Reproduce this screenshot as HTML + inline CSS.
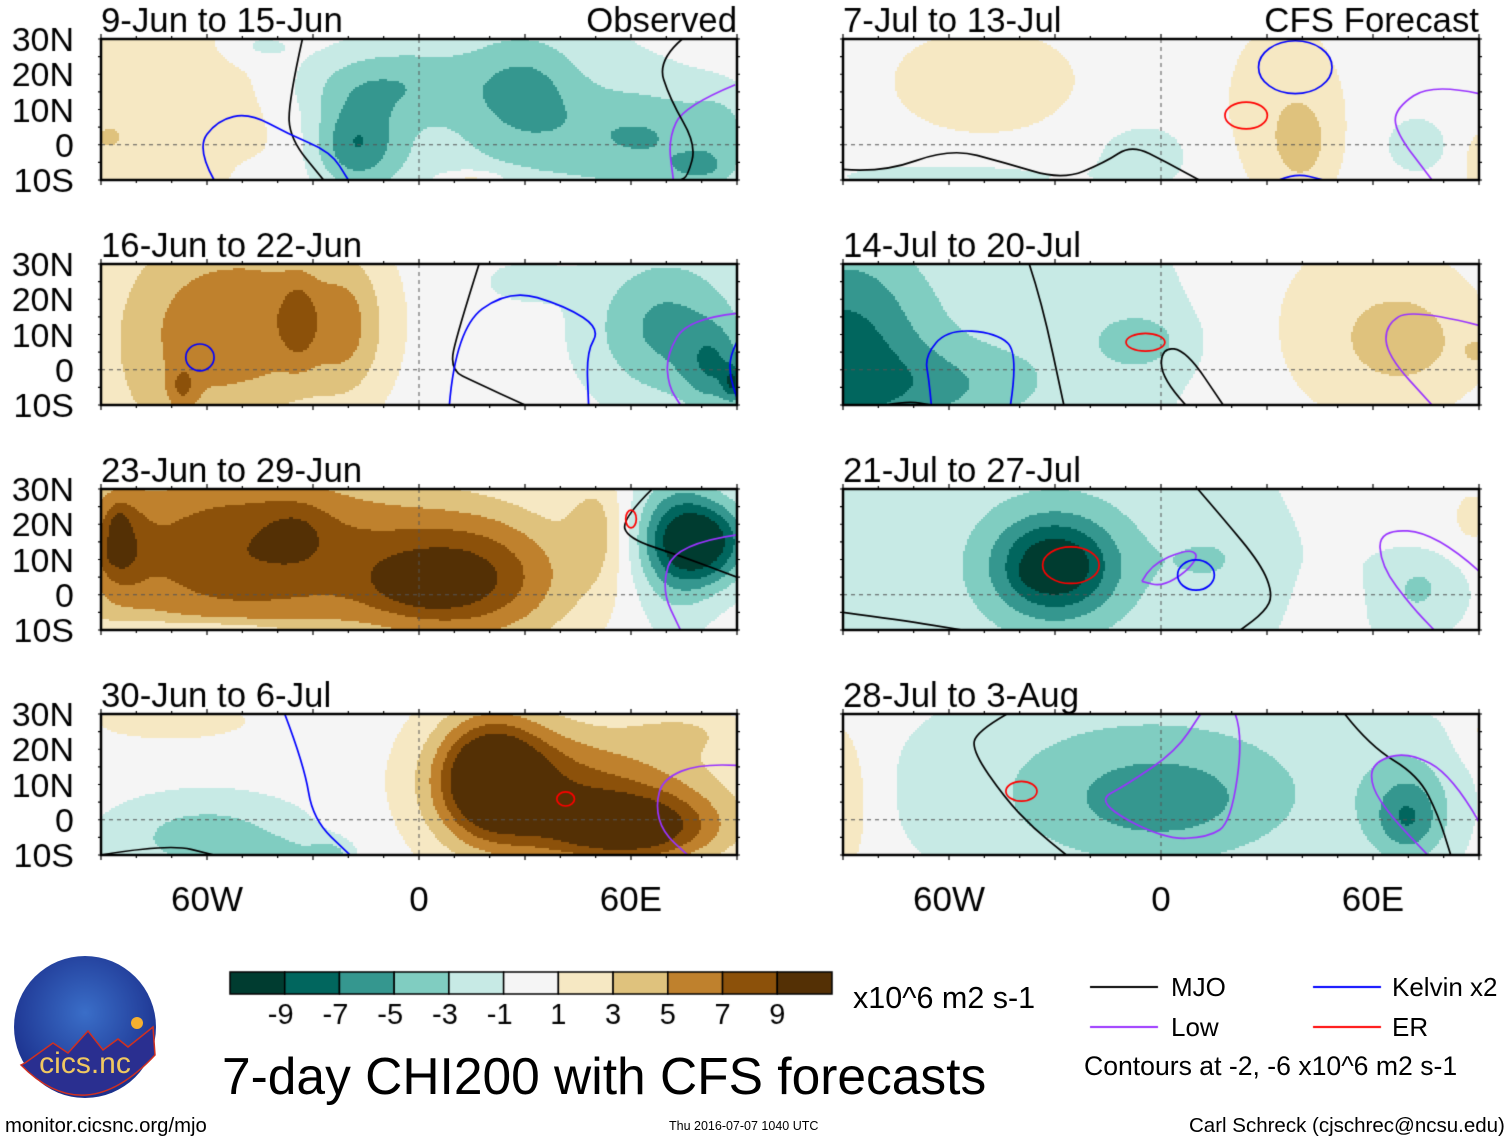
<!DOCTYPE html>
<html><head><meta charset="utf-8"><style>
body{margin:0;background:#fff;width:1510px;height:1142px;position:relative;overflow:hidden;font-family:"Liberation Sans",sans-serif;color:#000}
.t{position:absolute;white-space:nowrap;line-height:1}
canvas{position:absolute;left:0;top:0}
</style></head><body>
<canvas id="cv" width="1510" height="1142"></canvas>
<div class="t" style="left:222px;top:1051px;font-size:51.5px">7-day CHI200 with CFS forecasts</div>
<div class="t" style="left:853px;top:983px;font-size:30.5px">x10^6 m2 s-1</div>
<div class="t" style="left:1171px;top:974px;font-size:26px">MJO</div>
<div class="t" style="left:1392px;top:974px;font-size:26px">Kelvin x2</div>
<div class="t" style="left:1171px;top:1014px;font-size:26px">Low</div>
<div class="t" style="left:1392px;top:1014px;font-size:26px">ER</div>
<div class="t" style="left:1084px;top:1053px;font-size:26.6px">Contours at -2, -6 x10^6 m2 s-1</div>
<div class="t" style="left:5px;top:1116px;font-size:20.3px">monitor.cicsnc.org/mjo</div>
<div class="t" style="left:669px;top:1120px;font-size:12.5px">Thu 2016-07-07 1040 UTC</div>
<div class="t" style="left:1189px;top:1116px;font-size:20.5px">Carl Schreck (cjschrec@ncsu.edu)</div>
<svg style="position:absolute;left:13px;top:955px" width="145" height="145">
<defs><radialGradient id="g" cx="50%" cy="40%" r="60%"><stop offset="0" stop-color="#3a6ec8"/><stop offset="1" stop-color="#1b2f8c"/></radialGradient></defs>
<circle cx="72" cy="72" r="71" fill="url(#g)"/>
<path d="M8 110 L12 108 L40 88 L55 98 L75 76 L90 95 L105 84 L115 92 L140 72 L142 100 Q72 175 8 110Z" fill="#2a2f90" stroke="#d03020" stroke-width="1.5"/>
<circle cx="124" cy="68" r="6" fill="#f5b030"/>
<text x="72" y="118" text-anchor="middle" font-size="30" fill="#f0c860" font-family="Liberation Sans">cics.nc</text>
</svg>
<script>
const C=document.getElementById('cv'),X=C.getContext('2d');
const bounds=[-9,-7,-5,-3,-1,1,3,5,7,9];
const colors=['#003c30','#01665e','#35978f','#80cdc1','#c7eae5','#f5f5f5','#f6e8c3','#dfc27d','#bf812d','#8c510a','#543005'];
const cbLabels=['-9','-7','-5','-3','-1','1','3','5','7','9'];
const titles=['9-Jun to 15-Jun','16-Jun to 22-Jun','23-Jun to 29-Jun','30-Jun to 6-Jul','7-Jul to 13-Jul','14-Jul to 20-Jul','21-Jul to 27-Jul','28-Jul to 3-Aug'];
const latLabels=['30N','20N','10N','0','10S'];
const lonLabels=['60W','0','60E'];
// anomaly blobs: [lon, lat, amplitude, rlon, rlat]
const blobsL1=[[-65,10,2.4,40,30],[-45,28,-2,10,5],[-18,0,-6,12,12],[-12,17,-3.5,25,10],[30,15,-3.5,15,15],[65,2,-4,25,14],[80,-7,-3,10,5],[85,5,-2,8,10],[20,5,-2.5,50,40],[15,-10,3.5,10,3],[-45,-9,-1.5,6,4],[-88,2,2,5,4]];
const blobsL2=[[-42,14,5.5,28,26],[-34,14,3,5,12],[-70,5,3.5,25,40],[-20,12,3,10,20],[-67,-5,3,4,6],[70,12,-5.5,22,22],[84,0,-4.5,9,12],[89,-4,-5,3,5],[30,25,-2,12,6]];
const blobsL3=[[-50,12,8.8,50,28],[15,5,8,30,20],[-85,15,4,8,15],[-35,18,2,9,8],[2,3,3.5,14,7],[-85,20,2,3,5],[-85,12,2,4,4],[80,15,-10,14,12],[72,15,-4,12,25],[50,20,3,8,15],[-60,-10,-3,30,3]];
const blobsL4=[[-60,-5,-4,28,12],[-40,-10,-2,15,5],[-25,-10,-3,6,4],[-70,28,2,25,6],[20,12,9,14,16],[25,10,5,25,22],[60,-3,8.5,25,10],[55,8,5.5,35,18],[75,25,2,15,6]];
const blobsR1=[[-50,18,2.3,28,16],[-60,-9,-2,35,4],[-5,-3,-2,15,10],[35,10,2.2,18,28],[40,0,2.5,8,12],[72,0,-2,10,9],[90,-5,2,5,10]];
const blobsR2=[[-90,5,-7.5,25,35],[-60,-5,-3,25,12],[-25,10,-2.2,45,40],[-5,8,-2.5,12,8],[55,12,2,35,30],[70,8,2.5,18,15],[90,5,2,5,5]];
const blobsR3=[[-30,8,-9,17,14],[-35,6,-2,4,3],[-30,10,-2.5,70,60],[15,10,-1.5,15,10],[50,-2,1.8,7,8],[88,22,2,6,8],[72,0,-2.5,15,12],[73,2,-2,3,3]];
const blobsR4=[[-92,5,3.8,9,22],[0,5,-2,25,12],[0,8,-3,55,25],[70,0,-3.5,9,10],[70,5,-3,15,20],[-10,10,-1.5,70,40],[90,25,1.5,6,8]];
const fields=[blobsL1,blobsL2,blobsL3,blobsL4,blobsR1,blobsR2,blobsR3,blobsR4];
// open contour lines: color + [lon,lat] points
const contours=[
 [['#000',[[-33,30],[-37,12],[-36.5,1.6],[-27,-10]]],['#0000ff',[[-58,-10],[-63,-1],[-57,7],[-48,9],[-37,3],[-25,-2],[-20,-10]]],['#9933ff',[[89.5,17],[75,11],[70.5,1.6],[72,-10]]],['#000',[[74.5,30],[67.5,24],[71,13],[78.5,0],[76,-9],[74,-10]]]],
 [['#000',[[17,30],[11,11],[8.6,0],[16,-3.6],[30,-10]]],['#0000ff',[[8.6,-10],[10.4,11.6],[25.4,22.9],[41.6,18],[51.3,11.6],[47.4,5],[48,-10]]],['#9933ff',[[90,16],[76,14.5],[70,4],[70.6,-4.6],[74,-10]]],['#0000ff',[[90,8],[88,4],[88,-2],[90,-8]]]],
 [['#000',[[66,30],[57.5,21.6],[59,16],[74,11],[90,5]]],['#9933ff',[[90,17],[72.5,14.5],[68.5,1.6],[74,-10]]]],
 [['#0000ff',[[-38,30],[-32.5,15.5],[-30,0],[-19.5,-10]]],['#000',[[-90,-10],[-71,-6.8],[-58,-10]]],['#9933ff',[[90,15.4],[79.6,16],[69,11.6],[67,4],[69,-3.6],[76,-10]]]],
 [['#000',[[-90,-7],[-79,-8],[-59.6,-1],[-44.5,-5],[-28,-10],[-15.8,-5],[-8.3,0],[1.6,-5],[10.8,-10]]],['#0000ff',[[33.4,-10],[38,-8],[46,-10]]],['#9933ff',[[90,14.5],[76.7,17.4],[66.3,10.4],[66.3,3.7],[76.7,-10]]]],
 [['#000',[[-37.3,30],[-33.8,19.5],[-27.5,-10]]],['#0000ff',[[-42.6,-10],[-40.3,4.8],[-46.6,10.5],[-60.5,11.4],[-66.8,3.9],[-65.7,-2.8],[-65,-10]]],['#000',[[-78,-10],[-71.6,-8.9],[-65,-10]]],['#000',[[7,-10],[0,-2.5],[0.2,6.4],[7.2,5.4],[17.6,-10]]],['#9933ff',[[90,12.6],[71,17.4],[63.4,12.6],[64,4],[76.7,-10]]]],
 [['#000',[[10.4,30],[17.3,22],[28.3,8.7],[31.7,0],[29.4,-4.8],[22.5,-10]]],['#000',[[-90,-5],[-73.5,-7.2],[-56.2,-10]]],['#9933ff',[[-5.4,3.8],[-3,8.5],[7.3,12.9],[10.8,11.4],[7.3,6.6],[0.3,2.3],[-5.4,3.8]]],['#9933ff',[[90,6.7],[77.9,17.6],[61.7,18.6],[62.3,8.1],[71,-3.4],[77.3,-10]]]],
 [['#000',[[-43.6,30],[-52.3,25],[-53.4,19.5],[-44.2,6.2],[-36.1,-2.4],[-26.8,-10]]],['#9933ff',[[21,30],[23.3,24],[19.8,-0.7],[13.5,-5],[0.8,-5.5],[-18.8,5],[-9.6,10],[4.3,19.5],[11.2,30]]],['#000',[[52,30],[59,21],[72.8,12.6],[78.5,1.2],[82,-10]]],['#9933ff',[[90,-0.6],[82.5,12.6],[69.8,19.4],[60,16.4],[59.3,9.7],[65,1],[75.5,-10]]]]
];
// closed loops: [color, lon, lat, rlon, rlat]
const loops=[
 [],
 [['#0000ff',-62,3.5,4,3.8]],
 [['#ff0000',60,21.5,1.5,2.5]],
 [['#ff0000',41.5,5.9,2.5,2]],
 [['#0000ff',38,22,10.4,7.5],['#ff0000',24.1,8.3,6,3.8]],
 [['#ff0000',-4.4,7.8,5.5,2.5]],
 [['#ff0000',-25.5,8.4,8,5.2],['#0000ff',9.9,5.6,5.2,4.3]],
 [['#ff0000',-39.5,8.1,4.4,2.8]]
];
const panels=[];
for(let i=0;i<8;i++){panels.push({x:i<4?101:843,y:39+(i%4)*225,w:636,h:141});}
const pxPerDeg=636/180;
function xs(p,lon){return p.x+(lon+90)*pxPerDeg;}
function ys(p,lat){return p.y+(30-lat)*(141/40);}
function colorOf(v){let k=0;while(k<bounds.length&&v>=bounds[k])k++;return colors[k];}
function smooth(p,pts){
 X.beginPath();const P=pts.map(q=>[xs(p,q[0]),ys(p,q[1])]);
 X.moveTo(P[0][0],P[0][1]);
 for(let j=1;j<P.length-1;j++){const mx=(P[j][0]+P[j+1][0])/2,my=(P[j][1]+P[j+1][1])/2;X.quadraticCurveTo(P[j][0],P[j][1],mx,my);}
 X.lineTo(P[P.length-1][0],P[P.length-1][1]);X.stroke();
}
fields.forEach((bl,i)=>{
 const p=panels[i];const st=2;
 for(let px=0;px<p.w;px+=st)for(let py=0;py<p.h;py+=st){
  const lon=-90+(px+st/2)/pxPerDeg,lat=30-(py+st/2)*40/141;let v=0;
  for(const b of bl){const dx=(lon-b[0])/b[3],dy=(lat-b[1])/b[4];v+=b[2]*Math.exp(-(dx*dx+dy*dy));}
  X.fillStyle=colorOf(v);X.fillRect(p.x+px,p.y+py,Math.min(st,p.w-px),Math.min(st,p.h-py));
 }
 X.save();X.beginPath();X.rect(p.x,p.y,p.w,p.h);X.clip();
 X.strokeStyle='#555';X.setLineDash([4,4]);X.lineWidth=1;
 X.beginPath();X.moveTo(p.x,ys(p,0));X.lineTo(p.x+p.w,ys(p,0));X.moveTo(xs(p,0),p.y);X.lineTo(xs(p,0),p.y+p.h);X.stroke();X.setLineDash([]);
 X.lineWidth=1.7;
 contours[i].forEach(c=>{X.strokeStyle=c[0];smooth(p,c[1]);});
 loops[i].forEach(l=>{X.strokeStyle=l[0];X.beginPath();X.ellipse(xs(p,l[1]),ys(p,l[2]),l[3]*pxPerDeg,l[4]*141/40,0,0,Math.PI*2);X.stroke();});
 X.restore();
 X.strokeStyle='#000';X.lineWidth=2.5;X.strokeRect(p.x,p.y,p.w,p.h);
 X.lineWidth=1.2;X.beginPath();
 for(let lon=-90;lon<=90;lon+=10){const a=xs(p,lon),L=lon%30===0?5:3;X.moveTo(a,p.y);X.lineTo(a,p.y-L);X.moveTo(a,p.y+p.h);X.lineTo(a,p.y+p.h+L);}
 for(let lat=-10;lat<=30;lat+=5){const b=ys(p,lat);X.moveTo(p.x,b);X.lineTo(p.x-3,b);X.moveTo(p.x+p.w,b);X.lineTo(p.x+p.w+3,b);}
 X.stroke();
 X.fillStyle='#000';X.font='34.8px "Liberation Sans", sans-serif';X.textAlign='left';X.textBaseline='alphabetic';
 X.fillText(titles[i],p.x,p.y-7);
 if(i===0){X.textAlign='right';X.fillText('Observed',p.x+p.w,p.y-7);}
 if(i===4){X.textAlign='right';X.fillText('CFS Forecast',p.x+p.w,p.y-7);}
 if(i<4){X.textAlign='right';X.font='34px "Liberation Sans", sans-serif';
  latLabels.forEach((t,k)=>{X.fillText(t,74,ys(p,30-k*10)+12);});}
 if(i%4===3){X.textAlign='center';X.font='35px "Liberation Sans", sans-serif';
  lonLabels.forEach((t,k)=>{X.fillText(t,xs(p,-60+k*60),p.y+p.h+56);});}
});
// colorbar
const cbx=230,cby=972,cbw=602,cbh=22,bw=cbw/colors.length;
colors.forEach((c,k)=>{X.fillStyle=c;X.fillRect(cbx+k*bw,cby,bw,cbh);X.strokeStyle='#000';X.lineWidth=1.5;X.strokeRect(cbx+k*bw,cby,bw,cbh);});
X.fillStyle='#000';X.font='29px "Liberation Sans", sans-serif';X.textAlign='center';
cbLabels.forEach((t,k)=>{X.fillText(t,cbx+(k+1)*bw-(t[0]==='-'?4:0),cby+52);});
// legend lines
[['#000',1090,987],['#0000ff',1313,987],['#9933ff',1090,1027],['#ff0000',1313,1027]].forEach(l=>{X.strokeStyle=l[0];X.lineWidth=2;X.beginPath();X.moveTo(l[1],l[2]);X.lineTo(l[1]+68,l[2]);X.stroke();});
</script>
</body></html>
